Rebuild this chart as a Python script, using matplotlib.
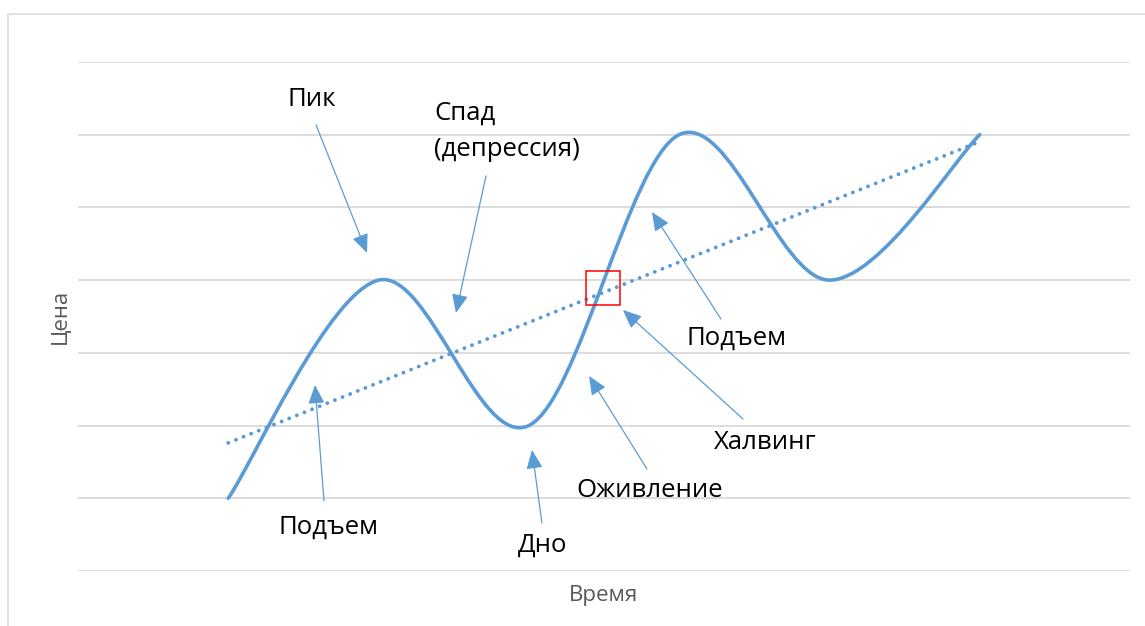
import numpy as np
import matplotlib
matplotlib.use("Agg")
import matplotlib.pyplot as plt
from matplotlib.path import Path
from matplotlib.patches import PathPatch, Rectangle, FancyArrowPatch

# price points of the cycle (category index -> level)
periods = [1, 2, 3, 4, 5, 6]
price = [1, 4, 2, 6, 4, 6]

# annotation labels: (text, text pos, arrow tail, arrow tip) in data units
labels = [
    ("Пик", (1.557, 6.478), (1.584, 6.134), (1.923, 4.374)),
    ("Спад\n(депрессия)", (2.369, 6.045), (2.715, 5.433), (2.515, 3.548)),
    ("Подъем", (1.670, 0.605), (1.637, 0.963), (1.577, 2.558)),
    ("Дно", (3.094, 0.358), (3.087, 0.660), (3.021, 1.664)),
    ("Оживление", (3.806, 1.100), (3.786, 1.403), (3.400, 2.682)),
    ("Халвинг", (4.571, 1.760), (4.425, 2.090), (3.626, 3.590)),
    ("Подъем", (4.385, 3.205), (4.278, 3.466), (3.819, 4.937)),
]

BLUE = "#5B9BD5"
GRID = "#D9D9D9"
plt.rcParams["font.family"] = ["Open Sans", "DejaVu Sans"]


def smooth_path(xs, ys):
    # Excel-like smoothed line: cubic Bezier with Catmull-Rom control points
    pts = np.column_stack([xs, ys]).astype(float)
    n = len(pts)
    verts = [pts[0]]
    codes = [Path.MOVETO]
    for i in range(n - 1):
        p0 = pts[max(i - 1, 0)]
        p1 = pts[i]
        p2 = pts[i + 1]
        p3 = pts[min(i + 2, n - 1)]
        verts += [p1 + (p2 - p0) / 6, p2 - (p3 - p1) / 6, p2]
        codes += [Path.CURVE4] * 3
    return Path(verts, codes)


fig = plt.figure(figsize=(11.45, 6.26), dpi=100)
ax = fig.add_axes([0.0681, 0.0879, 0.9188, 0.8131])
ax.set_xlim(0, 7)
ax.set_ylim(0, 7)
for s in ax.spines.values():
    s.set_visible(False)
ax.set_xticks([])
ax.set_yticks(range(8))
ax.tick_params(axis="y", length=0, labelleft=False)
ax.grid(axis="y", color=GRID, lw=1.3)
ax.set_axisbelow(True)

# main line
ax.add_patch(PathPatch(smooth_path(periods, price), fill=False, ec=BLUE, lw=2.6,
                       capstyle="round", zorder=3))

# linear trend
k, b = np.polyfit(periods, price, 1)
tx = np.array([periods[0], periods[-1]])
ax.plot(tx, k * tx + b, color=BLUE, lw=2.8, ls=(0, (0.01, 2.1)),
        dash_capstyle="round", zorder=3)

# halving marker
ax.add_patch(Rectangle((3.38, 3.658), 0.226, 0.468, fill=False, ec="#FF0000", lw=1.1, zorder=4))

for txt, tpos, tail, tip in labels:
    ha = "left" if "\n" in txt else "center"
    ax.text(tpos[0], tpos[1], txt, ha=ha, va="center", fontsize=18.5, color="black",
            linespacing=1.6)
    ax.add_patch(FancyArrowPatch(tail, tip, arrowstyle="-|>,head_length=1.15,head_width=0.5",
                                 mutation_scale=10, color=BLUE, lw=0.9,
                                 shrinkA=0, shrinkB=0, zorder=5))

ax.set_xlabel("Время", fontsize=16, color="#595959", labelpad=10)
ax.set_ylabel("Цена", fontsize=16, color="#595959", labelpad=5)

# outer chart border
fig.patches.append(Rectangle((7.5 / 1145, -0.02), 1.05, 0.9784 + 0.02, fill=False,
                             ec=GRID, lw=1.1, transform=fig.transFigure))

fig.savefig("out.png", dpi=100)
